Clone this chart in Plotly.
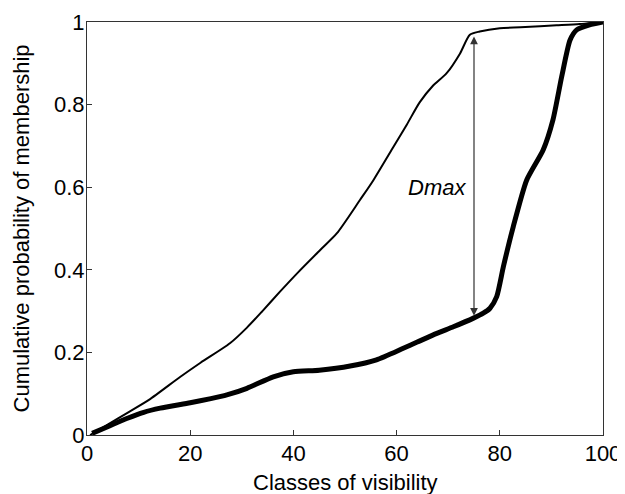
import plotly.graph_objects as go

# Thin curve (upper)
thin_x = [0.6, 4, 8, 12, 18.1, 22, 27.7, 31, 34, 37.4, 41, 45.2, 48.4, 52.9, 55.5, 59.4, 62, 64.5, 67, 69.7, 72.3, 74.2, 76.1, 80, 84, 87.8, 91, 95.5, 100]
thin_y = [0.0, 0.025, 0.055, 0.085, 0.141, 0.175, 0.222, 0.26, 0.3, 0.347, 0.395, 0.448, 0.488, 0.569, 0.617, 0.698, 0.752, 0.806, 0.845, 0.876, 0.924, 0.969, 0.977, 0.985, 0.987, 0.99, 0.992, 0.995, 1.0]

# Thick curve (lower)
thick_x = [1, 4, 7.7, 11, 14.2, 20, 24, 27.1, 31, 36.1, 40, 45, 51, 56.1, 61.3, 64, 67.8, 71, 74.9, 76.8, 78.1, 79.4, 80.7, 82.6, 85.2, 88.4, 90.3, 92, 93.6, 94.9, 97.4, 100]
thick_y = [0.004, 0.02, 0.04, 0.055, 0.065, 0.078, 0.088, 0.097, 0.113, 0.141, 0.153, 0.157, 0.167, 0.182, 0.21, 0.225, 0.246, 0.262, 0.283, 0.295, 0.307, 0.335, 0.408, 0.504, 0.617, 0.69, 0.763, 0.868, 0.956, 0.981, 0.993, 1.0]

# Dmax arrow
dmax_x = 75
dmax_top = 0.965
dmax_bottom = 0.285

x_ticks = [0, 20, 40, 60, 80, 100]
y_ticks = [0, 0.2, 0.4, 0.6, 0.8, 1]
y_tick_labels = ["0", "0.2", "0.4", "0.6", "0.8", "1"]

FONT = "Liberation Sans, Arial, Helvetica"
FS = 22

fig = go.Figure()
fig.add_trace(go.Scatter(x=thin_x, y=thin_y, mode="lines",
                         line=dict(color="black", width=2, shape="spline", smoothing=0.7),
                         showlegend=False, hoverinfo="skip"))
fig.add_trace(go.Scatter(x=thick_x, y=thick_y, mode="lines",
                         line=dict(color="black", width=5, shape="spline", smoothing=0.6),
                         showlegend=False, hoverinfo="skip"))

fig.add_annotation(x=dmax_x, y=dmax_top, ax=dmax_x, ay=dmax_bottom,
                   xref="x", yref="y", axref="x", ayref="y",
                   text="", showarrow=True, arrowhead=2, startarrowhead=2,
                   arrowside="end+start", arrowsize=1.3, startarrowsize=1.3,
                   arrowwidth=1.2, arrowcolor="#333333")
fig.add_annotation(x=67.8, y=0.6, xref="x", yref="y", text="<i>Dmax</i>",
                   showarrow=False, font=dict(family=FONT, size=FS, color="black"))

# Axis titles as annotations for exact placement
fig.add_annotation(x=0.5, y=-0.116, xref="paper", yref="paper", yanchor="middle",
                   text="Classes of visibility", showarrow=False,
                   font=dict(family=FONT, size=FS, color="black"))
fig.add_annotation(x=-0.126, y=0.5, xref="paper", yref="paper", xanchor="center",
                   text="Cumulative probability of membership", showarrow=False,
                   textangle=-90, font=dict(family=FONT, size=FS, color="black"))

axis_common = dict(showline=True, linecolor="#333333", linewidth=1, mirror=True,
                   ticks="inside", ticklen=5, tickcolor="#333333",
                   showgrid=False, zeroline=False, automargin=False,
                   tickfont=dict(family=FONT, size=FS, color="black"))

fig.update_xaxes(range=[0, 100], tickvals=x_ticks, ticklabelstandoff=-1, **axis_common)
fig.update_yaxes(range=[0, 1], tickvals=y_ticks, ticktext=y_tick_labels,
                 ticklabelstandoff=-3, **axis_common)

# page body has an 8px margin, so the figure is sized to fit inside the window
fig.update_layout(width=617, height=486, margin=dict(l=79, r=22, t=14, b=59),
                  plot_bgcolor="white", paper_bgcolor="white")

fig.write_html("out.html")
